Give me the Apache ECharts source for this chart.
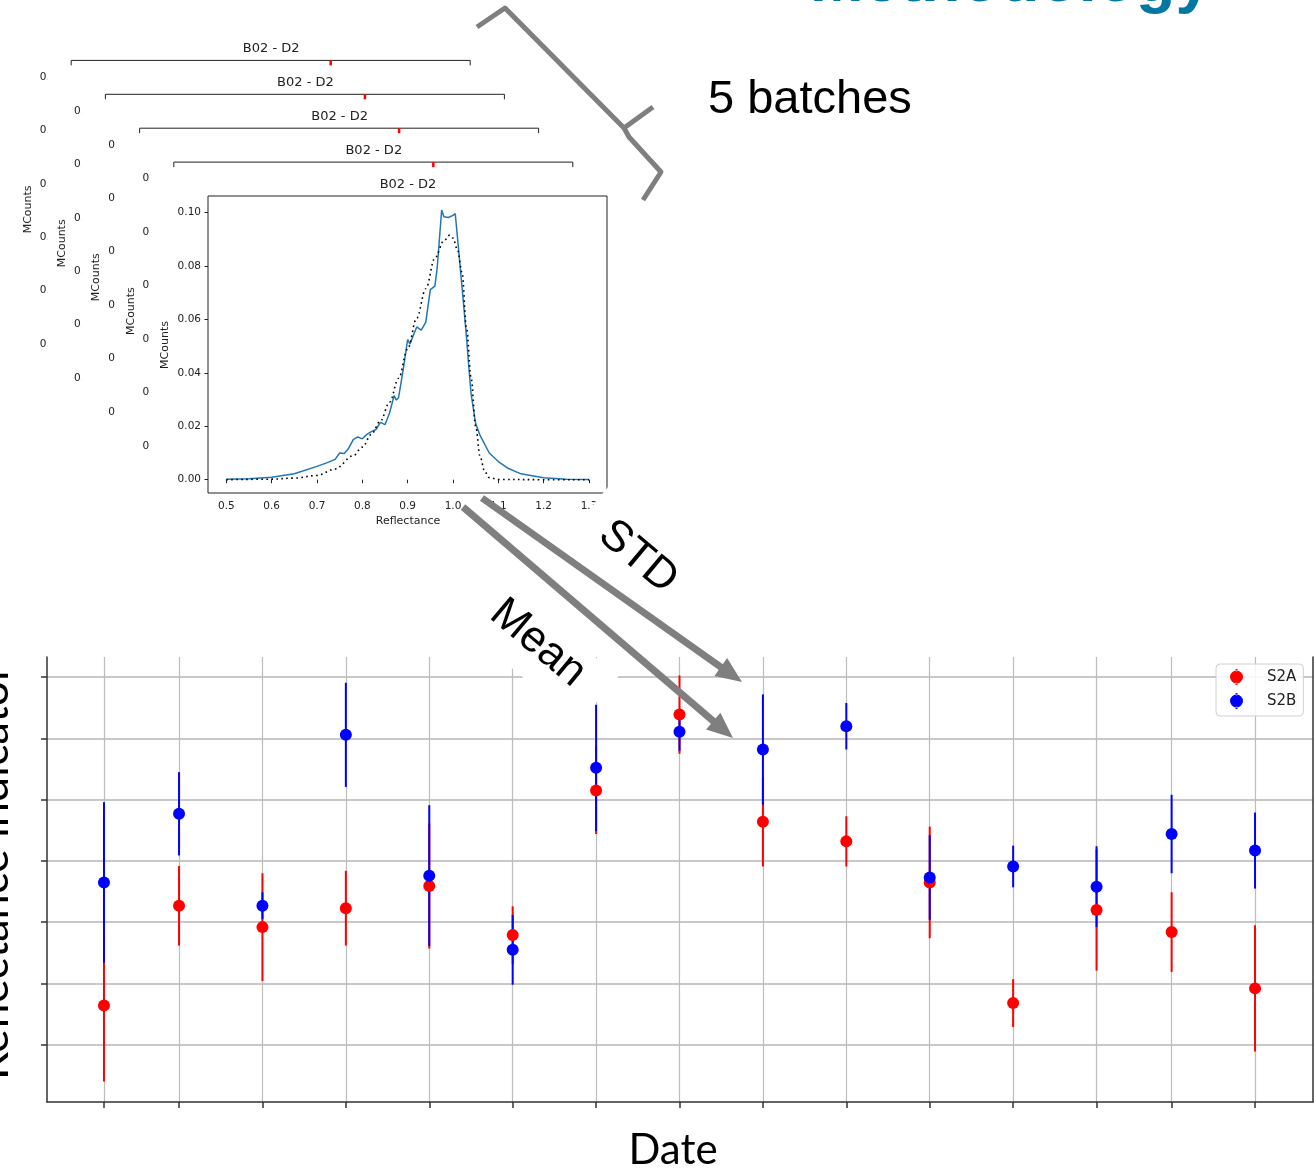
<!DOCTYPE html>
<html><head><meta charset="utf-8">
<script src="https://cdn.jsdelivr.net/npm/echarts@6/dist/echarts.min.js"></script>
<style>html,body{margin:0;padding:0;background:#fff}#c{width:1314px;height:1168px}</style>
</head><body><div id="c"></div>
<script>
// ---------- main chart data (reflectance indicator per acquisition date) ----------
const dates = ['2020-04-03','2020-04-12','2020-04-22','2020-05-02','2020-05-12','2020-05-22','2020-06-01',
  '2020-06-11','2020-06-21','2020-07-01','2020-07-11','2020-07-21','2020-07-31','2020-08-09','2020-08-19'];
const s2aMean = [1.64, 3.27, 2.92, 3.23, 3.59, 2.79, 5.15, 6.39, 4.64, 4.32, 3.65, 1.68, 3.20, 2.84, 1.92];
const s2aStd  = [1.24, 0.65, 0.88, 0.61, 1.02, 0.47, 0.71, 0.64, 0.73, 0.41, 0.91, 0.39, 0.99, 0.65, 1.03];
const s2bMean = [3.65, 4.77, 3.27, 6.06, 3.76, 2.55, 5.52, 6.11, 5.82, 6.20, 3.73, 3.91, 3.58, 4.44, 4.17];
const s2bStd  = [1.31, 0.68, 0.22, 0.85, 1.15, 0.57, 1.03, 0.31, 0.90, 0.38, 0.69, 0.34, 0.66, 0.64, 0.62];
const yTicks = [1, 2, 3, 4, 5, 6, 7];

// ---------- histogram data (B02 - D2) ----------
const reflX = [0.50,0.55,0.60,0.65,0.70,0.72,0.74,0.75,0.76,0.77,0.78,0.79,0.80,0.81,0.82,0.83,0.84,0.85,0.86,0.87,0.875,0.88,0.89,0.90,0.905,0.91,0.92,0.93,0.94,0.95,0.96,0.965,0.975,0.98,0.99,1.00,1.005,1.01,1.02,1.03,1.035,1.04,1.05,1.06,1.08,1.10,1.12,1.15,1.20,1.25,1.30];
const countsObs = [0.0002,0.0004,0.0009,0.0022,0.0050,0.0062,0.0076,0.0100,0.0098,0.0118,0.0150,0.0160,0.0153,0.0170,0.0180,0.0188,0.0215,0.0206,0.0250,0.0315,0.0298,0.0308,0.0410,0.0525,0.0508,0.0530,0.0572,0.0560,0.0590,0.0712,0.0725,0.0790,0.1010,0.0985,0.0982,0.0990,0.0996,0.0905,0.0720,0.0530,0.0420,0.0320,0.0210,0.0165,0.0100,0.0068,0.0044,0.0022,0.0007,0.0002,0.0001];
const fitX = [0.50,0.60,0.65,0.70,0.74,0.78,0.80,0.82,0.84,0.86,0.88,0.90,0.92,0.94,0.96,0.98,0.993,1.00,1.01,1.02,1.03,1.04,1.05,1.06,1.07,1.08,1.10,1.20,1.30];
const countsFit = [0.0000,0.0002,0.0006,0.0016,0.0040,0.0090,0.0122,0.0170,0.0220,0.0290,0.0380,0.0490,0.0605,0.0715,0.0830,0.0895,0.0916,0.0905,0.0860,0.0775,0.0565,0.0380,0.0200,0.0085,0.0030,0.0008,0.0001,0.0000,0.0000];
const meanRefl = 1.032;
const histXTicks = [0.5, 0.6, 0.7, 0.8, 0.9, 1.0, 1.1, 1.2, 1.3];
const histYTicks = [0.00, 0.02, 0.04, 0.06, 0.08, 0.10];
const batchTitle = 'B02 - D2';
const nBatches = 5;

// ---------- build ----------
const dayOf = d => (Date.parse(d) - Date.parse(dates[0])) / 864e5;
const days = dates.map(dayOf);
const errData = (m, s) => days.map((d, i) => [d, m[i], s[i]]);
const ptData = m => days.map((d, i) => [d, m[i]]);
function errRender(color) {
  return function (params, api) {
    const x = api.value(0), m = api.value(1), s = api.value(2);
    const p1 = api.coord([x, m - s]), p2 = api.coord([x, m + s]);
    return {type: 'line', shape: {x1: p1[0], y1: p1[1], x2: p2[0], y2: p2[1]},
      style: {stroke: color, lineWidth: 2}};
  };
}
const MPL = 'DejaVu Sans';
const spine = {color: '#333', width: 1.5};
const iconPath = 'path://M5.6,0h1.8v2.2h-1.8z M5.6,13.8h1.8v2.2h-1.8z M0,8a6.5,6.5 0 1,0 13,0a6.5,6.5 0 1,0 -13,0z';

const option = {
  backgroundColor: '#fff',
  animation: false,
  grid: [
    {left: 47, top: 657, width: 1266, height: 445, show: false},
    {left: 208, top: 196, width: 399, height: 297, show: true, borderColor: '#222', borderWidth: 1, backgroundColor: '#fff', z: 10}
  ],
  xAxis: [
    {type: 'value', gridIndex: 0, min: -6.83, max: 144.95,
      axisLine: {show: true, onZero: false, lineStyle: spine},
      axisTick: {show: true, customValues: days, length: 6, lineStyle: spine},
      axisLabel: {show: false},
      splitLine: {show: true, lineStyle: {color: '#bdbdbd', width: 1.2}}},
    {type: 'value', gridIndex: 1, min: 0.4596, max: 1.3397, z: 10,
      axisLine: {show: false},
      axisTick: {show: true, customValues: histXTicks, length: 3.5, lineStyle: {color: '#222', width: 1}},
      axisLabel: {show: true, customValues: histXTicks, formatter: v => v.toFixed(1), fontSize: 10.5, fontFamily: MPL, color: '#222', margin: 8},
      splitLine: {show: false}}
  ],
  yAxis: [
    {type: 'value', gridIndex: 0, min: 0.065, max: 7.33,
      axisLine: {show: true, onZero: false, lineStyle: spine},
      axisTick: {show: true, customValues: yTicks, length: 6, lineStyle: spine},
      axisLabel: {show: false},
      splitLine: {show: true, lineStyle: {color: '#c8c8c8', width: 2}}},
    {type: 'value', gridIndex: 0, position: 'right', min: 0.065, max: 7.33,
      axisLine: {show: true, onZero: false, lineStyle: spine},
      axisTick: {show: false}, axisLabel: {show: false}, splitLine: {show: false}},
    {type: 'value', gridIndex: 1, min: -0.00498, max: 0.10624, z: 10,
      axisLine: {show: false},
      axisTick: {show: true, customValues: histYTicks, length: 3.5, lineStyle: {color: '#222', width: 1}},
      axisLabel: {show: true, customValues: histYTicks, formatter: v => v.toFixed(2), fontSize: 10.5, fontFamily: MPL, color: '#222', margin: 7},
      splitLine: {show: false}}
  ],
  legend: {
    orient: 'vertical', left: 1216, top: 664,
    padding: [5, 7, 7, 14], itemGap: 8, itemWidth: 13, itemHeight: 16,
    backgroundColor: 'rgba(255,255,255,0.85)', borderColor: '#d0d0d0', borderWidth: 1, borderRadius: 4,
    textStyle: {fontFamily: MPL, fontSize: 15, color: '#222', padding: [0, 0, 0, 19]},
    data: [{name: 'S2A', icon: iconPath}, {name: 'S2B', icon: iconPath}]
  },
  series: [
    {name: 'S2A', type: 'custom', xAxisIndex: 0, yAxisIndex: 0, renderItem: errRender('#ff0000'),
      data: errData(s2aMean, s2aStd), encode: {x: 0, y: 1}, itemStyle: {color: '#ff0000'}, z: 2, silent: true},
    {name: 'S2B', type: 'custom', xAxisIndex: 0, yAxisIndex: 0, renderItem: errRender('#0000ff'),
      data: errData(s2bMean, s2bStd), encode: {x: 0, y: 1}, itemStyle: {color: '#0000ff'}, z: 2, silent: true},
    {name: 'S2A', type: 'scatter', xAxisIndex: 0, yAxisIndex: 0, symbol: 'circle', symbolSize: 12,
      data: ptData(s2aMean), itemStyle: {color: '#ff0000', opacity: 1}, z: 3},
    {name: 'S2B', type: 'scatter', xAxisIndex: 0, yAxisIndex: 0, symbol: 'circle', symbolSize: 12,
      data: ptData(s2bMean), itemStyle: {color: '#0000ff', opacity: 1}, z: 3},
    {name: 'hist', type: 'line', xAxisIndex: 1, yAxisIndex: 2, showSymbol: false, z: 11,
      data: reflX.map((x, i) => [x, countsObs[i]]),
      lineStyle: {color: '#1f77b4', width: 1.5}, itemStyle: {color: '#1f77b4'},
      markLine: {silent: true, symbol: 'none', label: {show: false}, animation: false,
        lineStyle: {color: '#ff0000', width: 2.5, type: 'solid'}, data: [{xAxis: meanRefl}]}},
    {name: 'fit', type: 'line', xAxisIndex: 1, yAxisIndex: 2, showSymbol: false, z: 12,
      smooth: 0.35, smoothMonotone: 'x',
      data: fitX.map((x, i) => [x, countsFit[i]]),
      lineStyle: {color: '#000', width: 1.6, type: [1.6, 3.4]}, itemStyle: {color: '#000'}}
  ]
};

const chart = echarts.init(document.getElementById('c'));
chart.setOption(option);

// ---------- annotations, stacked batch panels ----------
const redPx = chart.convertToPixel({xAxisIndex: 1}, meanRefl);
const yTickPx = histYTicks.map(v => chart.convertToPixel({yAxisIndex: 2}, v));
const G = [];
function txt(x, y, text, size, o) {
  o = o || {};
  const st = Object.assign({text: text, fontSize: size, fontFamily: MPL, fill: '#222', align: 'center', verticalAlign: 'middle'}, o.style || {});
  const el = {type: 'text', x: x, y: y, z: o.z != null ? o.z : 50, style: st};
  if (o.rotation != null) el.rotation = o.rotation;
  return el;
}
// back panels (all batches but the front one)
const DX = 34.2, DY = 33.9;
for (let i = 0; i < nBatches - 1; i++) {
  const k = nBatches - 1 - i, sx = k * DX, sy = k * DY, zc = 1 + 2 * i, zw = 2 + 2 * i;
  const L = 208 - sx, R = 607 - sx, T = 196 - sy;
  G.push({type: 'polyline', z: zc, shape: {points: [[L, T + 5], [L, T], [R, T], [R, T + 5]]}, style: {stroke: '#222', lineWidth: 1, fill: null}});
  G.push({type: 'line', z: zc, shape: {x1: redPx - sx, y1: T, x2: redPx - sx, y2: T + 5}, style: {stroke: '#ff0000', lineWidth: 2.5}});
  G.push(txt(408 - sx, 184.5 - sy, batchTitle, 13, {z: zc}));
  G.push(txt(165 - sx, 345 - sy, 'MCounts', 11, {z: zc, rotation: Math.PI / 2}));
  histYTicks.forEach((v, j) => G.push(txt(200 - sx, yTickPx[j] - sy, v.toFixed(2), 10.5, {z: zc, style: {align: 'right'}})));
  // figure background of the next panel
  const nsx = (k - 1) * DX, nsy = (k - 1) * DY;
  G.push({type: 'rect', z: zw, shape: {x: 150 - nsx, y: 168 - nsy, width: 520, height: 380}, style: {fill: '#fff'}});
}
// front panel texts
G.push(txt(408, 184.5, batchTitle, 13, {z: 12}));
G.push(txt(165, 345, 'MCounts', 11, {z: 12, rotation: Math.PI / 2}));
G.push(txt(408, 521, 'Reflectance', 11, {z: 12}));

// white text boxes of the rotated labels
const rot = -40 * Math.PI / 180;
G.push({type: 'rect', z: 13, x: 638, y: 557, rotation: rot, shape: {x: -68, y: -40, width: 136, height: 70}, style: {fill: '#fff'}});
G.push({type: 'rect', z: 1, x: 538, y: 643, rotation: rot, shape: {x: -83, y: -26, width: 166, height: 62}, style: {fill: '#fff'}});
const LIB = 'Liberation Sans';
G.push(txt(638, 557, 'STD', 44, {z: 51, rotation: rot, style: {fontFamily: LIB, fill: '#000'}}));
G.push(txt(538, 643, 'Mean', 44, {z: 51, rotation: rot, style: {fontFamily: LIB, fill: '#000'}}));

// arrows
function arrow(x1, y1, x2, y2) {
  const dx = x2 - x1, dy = y2 - y1, l = Math.hypot(dx, dy), ux = dx / l, uy = dy / l;
  const hl = 26, hw = 11, bx = x2 - ux * hl, by = y2 - uy * hl;
  G.push({type: 'line', z: 52, shape: {x1: x1, y1: y1, x2: bx + ux, y2: by + uy}, style: {stroke: '#7f7f7f', lineWidth: 7}});
  G.push({type: 'polygon', z: 52, shape: {points: [[x2, y2], [bx - uy * hw, by + ux * hw], [bx + uy * hw, by - ux * hw]]}, style: {fill: '#7f7f7f'}});
}
arrow(463, 507, 733, 738);
arrow(482, 498, 742, 682);

// brace
G.push({type: 'polyline', z: 52, shape: {points: [[477, 27], [505, 8], [624, 128], [653, 107]]},
  style: {stroke: '#7f7f7f', lineWidth: 5, lineJoin: 'round', lineCap: 'butt', fill: null}});
G.push({type: 'polyline', z: 52, shape: {points: [[624, 128], [629, 137], [661, 172], [643, 200]]},
  style: {stroke: '#7f7f7f', lineWidth: 5, lineJoin: 'round', lineCap: 'butt', fill: null}});

// slide texts
G.push(txt(708, 100, '5 batches', 47, {style: {fontFamily: LIB, fill: '#000', align: 'left'}}));
G.push(txt(810, -16.5, 'Methodology', 64.5, {style: {fontFamily: LIB, fontWeight: 'bold', fill: '#0078a3', align: 'left'}}));
G.push(txt(673, 1150, 'Date', 42, {style: {fontFamily: 'Lato', fill: '#000'}}));
G.push(txt(-7, 1080, 'Reflectance indicator', 45, {rotation: Math.PI / 2, style: {fontFamily: 'Lato', fill: '#000', align: 'left'}}));

chart.setOption({graphic: {elements: G}});
</script></body></html>
